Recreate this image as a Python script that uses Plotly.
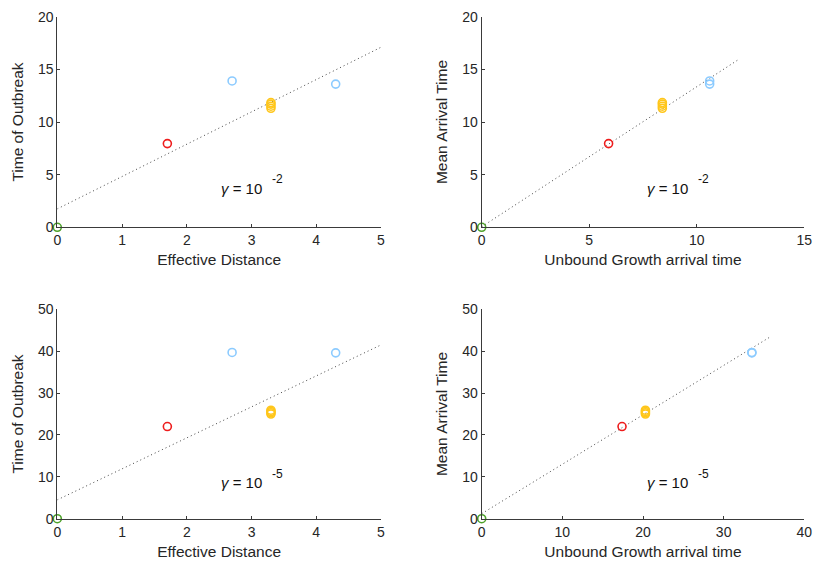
import numpy as np
import plotly.graph_objects as go

# Node groups (one entry per node): source, first hop, far nodes, cluster
node_colors = ["#4ea22a", "#ee1c1c", "#8ccbff", "#ffc61a", "#ffc61a",
               "#ffc61a", "#ffc61a", "#8ccbff"]

eff_distance = [0.0, 1.7, 2.7, 3.3, 3.3, 3.3, 3.3, 4.3]

# gamma = 1e-2
arrival_g2 = [0.0, 7.95, 13.9, 11.3, 11.5, 11.7, 11.85, 13.6]
unbound_g2 = [0.0, 5.9, 10.6, 8.4, 8.4, 8.4, 8.4, 10.6]

# gamma = 1e-5
arrival_g5 = [0.0, 22.0, 39.7, 25.0, 25.3, 25.6, 25.9, 39.6]
unbound_g5 = [0.0, 17.4, 33.5, 20.3, 20.3, 20.3, 20.3, 33.5]

# linear fits: (intercept, slope, x_max)
fit_dist_g2 = (1.75, 3.07, 5.0)
fit_unb_g2 = (0.05, 1.33, 12.0)
fit_dist_g5 = (4.5, 7.4, 5.0)
fit_unb_g5 = (1.2, 1.18, 35.9)

panels = [
    dict(x=eff_distance, y=arrival_g2, fit=fit_dist_g2, xr=[0, 5], yr=[0, 20],
         xt=[0, 1, 2, 3, 4, 5], yt=[0, 5, 10, 15, 20],
         xtitle="Effective Distance", ytitle="Time of Outbreak",
         label=(2.5, 3.7, "-2")),
    dict(x=unbound_g2, y=arrival_g2, fit=fit_unb_g2, xr=[0, 15], yr=[0, 20],
         xt=[0, 5, 10, 15], yt=[0, 5, 10, 15, 20],
         xtitle="Unbound Growth arrival time", ytitle="Mean Arrival Time",
         label=(7.6, 3.7, "-2")),
    dict(x=eff_distance, y=arrival_g5, fit=fit_dist_g5, xr=[0, 5], yr=[0, 50],
         xt=[0, 1, 2, 3, 4, 5], yt=[0, 10, 20, 30, 40, 50],
         xtitle="Effective Distance", ytitle="Time of Outbreak",
         label=(2.5, 8.6, "-5")),
    dict(x=unbound_g5, y=arrival_g5, fit=fit_unb_g5, xr=[0, 40], yr=[0, 50],
         xt=[0, 10, 20, 30, 40], yt=[0, 10, 20, 30, 40, 50],
         xtitle="Unbound Growth arrival time", ytitle="Mean Arrival Time",
         label=(20.2, 8.6, "-5")),
]

W, H = 814, 565
xdoms = [[57.3 / W, 381 / W], [481.7 / W, 804.3 / W]]
ydoms = [[(H - 227.3) / H, (H - 16.7) / H], [(H - 518.7) / H, (H - 309.3) / H]]

axis_color = "#3a3a3a"
font_family = "Liberation Sans, Arial, sans-serif"

fig = go.Figure()
layout = dict(
    width=W, height=H, margin=dict(l=0, r=0, t=0, b=0, autoexpand=False),
    paper_bgcolor="white", plot_bgcolor="white", showlegend=False,
    font=dict(family=font_family, size=14, color="#262626"),
    annotations=[],
)

for i, p in enumerate(panels):
    n = i + 1
    xa = "x" if n == 1 else f"x{n}"
    ya = "y" if n == 1 else f"y{n}"
    row, col = divmod(i, 2)

    b0, b1, xmax = p["fit"]
    fx = np.linspace(0, xmax, 60)
    fig.add_trace(go.Scatter(
        x=fx, y=b0 + b1 * fx, mode="lines", xaxis=xa, yaxis=ya,
        line=dict(color="#444444", width=1, dash="1px,3px"),
        hoverinfo="skip"))

    fig.add_trace(go.Scatter(
        x=p["x"], y=p["y"], mode="markers", xaxis=xa, yaxis=ya,
        cliponaxis=False,
        marker=dict(symbol="circle-open", size=8,
                    color=node_colors, line=dict(width=1.6, color=node_colors))))

    common = dict(showline=True, linecolor=axis_color, linewidth=1,
                  ticks="inside", ticklen=3, tickcolor=axis_color,
                  showgrid=False, zeroline=False, automargin=False,
                  tickfont=dict(size=14, color="#262626"))
    layout["xaxis" if n == 1 else f"xaxis{n}"] = dict(
        domain=xdoms[col], anchor=ya, range=p["xr"], tickvals=p["xt"],
        title=dict(text=p["xtitle"], font=dict(size=15.5), standoff=7),
        **common)
    layout["yaxis" if n == 1 else f"yaxis{n}"] = dict(
        domain=ydoms[row], anchor=xa, range=p["yr"], tickvals=p["yt"],
        title=dict(text=p["ytitle"], font=dict(size=15.5), standoff=10),
        **common)

    lx, ly, expo = p["label"]
    layout["annotations"].append(dict(
        x=lx, y=ly, xref=xa, yref=ya, xanchor="left", yanchor="middle",
        showarrow=False, text="<i>γ</i> = 10",
        font=dict(size=15, color="#111111")))
    layout["annotations"].append(dict(
        x=lx, y=ly, xref=xa, yref=ya, xanchor="left", yanchor="middle",
        xshift=51, yshift=9, showarrow=False, text=expo,
        font=dict(size=12, color="#111111")))

fig.update_layout(**layout)
fig.write_html("out.html")
